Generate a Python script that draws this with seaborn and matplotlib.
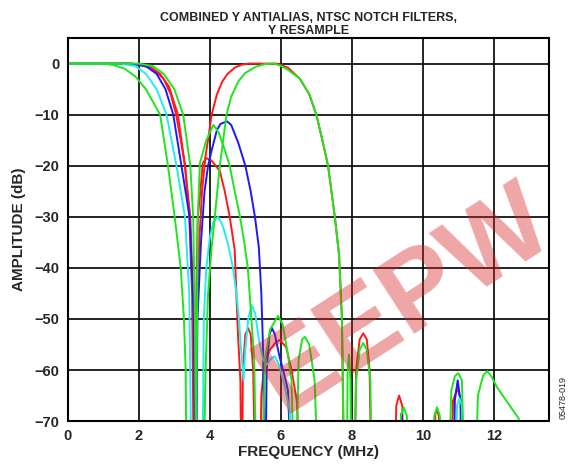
import pandas as pd
import matplotlib.pyplot as plt
import seaborn as sns

# Curves (MHz, dB). Values below -70 are nulls (clipped).
red_lobe_f = [0, 1.5, 2.0, 2.4, 2.7, 2.9, 3.05, 3.18, 3.3, 3.42, 3.5, 3.56, 3.62, 3.66, 3.72, 3.8, 3.9, 4.05, 4.28, 4.42, 4.56, 4.7, 4.79, 4.86, 4.9,
              4.93, 5.0, 5.08, 5.15, 5.22, 5.3]
red_lobe_db = [0, 0, -0.2, -1, -3, -6, -10, -15, -20, -30, -45, -90, -45, -30, -26, -19.5, -18.5, -19, -21, -25, -30, -36.5, -52.7, -62, -90,
               -60, -53, -51.8, -53, -60, -90]

red_lp_f = [0, 1.8, 2.3, 2.6, 2.85, 3.1, 3.3, 3.45, 3.55, 3.6, 5.4, 5.45, 5.55, 5.7, 5.85, 5.97, 6.15, 6.3, 6.45, 6.6]
red_lp_db = [0, 0, -0.6, -2, -4.5, -10, -20, -30, -50, -90, -90, -65, -58, -56, -54.6, -54.1, -55.5, -60, -66, -90]

red_bp_f = [3.6, 3.64, 3.7, 3.78, 3.88, 3.97, 4.05, 4.2, 4.35, 4.5, 4.7, 4.9, 5.1, 5.9, 6.2, 6.54, 6.8, 7.0, 7.17, 7.33, 7.52, 7.64, 7.72, 7.8,
            8.05, 8.12, 8.22, 8.32, 8.42, 8.5, 8.57, 9.2, 9.25, 9.33, 9.42, 9.48, 10.3, 10.35, 10.4, 10.45, 10.5,
            10.75, 10.85, 10.97, 11.08, 11.15]
red_bp_db = [-90, -50, -35, -25, -18, -14, -10, -6, -3.5, -2, -0.8, -0.2, 0, 0, -0.8, -3, -6, -10, -15, -20, -30, -37.5, -50, -90,
             -90, -60, -54, -52.8, -54, -60, -90, -90, -67, -65, -67, -90, -90, -68.5, -68, -69, -90,
             -90, -66, -63.6, -66, -90]

blue_f = [0, 1.8, 2.2, 2.5, 2.75, 2.97, 3.2, 3.43, 3.55, 3.6, 3.65, 3.75, 3.85, 3.95, 4.05, 4.2, 4.3, 4.48, 4.6, 4.8, 5.0, 5.15, 5.27, 5.38,
          5.45, 5.5, 5.55, 5.6, 5.68, 5.75, 5.83, 5.95, 6.1, 6.2, 6.35, 9.36, 9.4, 9.44, 10.85, 10.9, 10.98, 11.06, 11.1]
blue_db = [0, 0, -0.5, -2, -5, -10, -20, -30, -50, -90, -50, -35, -25, -20, -17, -13, -11.8, -11.3, -12, -15.5, -20, -25, -30, -36,
           -45, -56, -90, -60, -53, -51.8, -53, -57, -61, -64, -90, -90, -68.5, -90, -90, -66, -62, -66, -90]

cyan_f = [0, 1.5, 1.9, 2.2, 2.5, 2.78, 3.06, 3.3, 3.42, 3.5, 3.78, 3.83, 3.9, 4.0, 4.1, 4.23, 4.35, 4.5, 4.65, 4.75, 4.82, 4.88, 4.95,
          5.0, 5.08, 5.18, 5.28, 5.38, 5.5, 5.6, 5.72, 5.83, 5.95, 6.1, 6.25, 6.35, 10.9, 10.96, 11.03, 11.1, 11.15]
cyan_db = [0, 0, -0.5, -2, -5, -10, -20, -30, -45, -90, -90, -50, -40, -34, -31, -30, -31.5, -35, -40, -45, -50, -56, -62,
           -56, -50, -47.3, -49, -54, -58, -59, -57.8, -57.3, -59, -63, -68, -90, -90, -67, -65.5, -67, -90]

green_lp_f = [0, 1.0, 1.3, 1.6, 1.9, 2.2, 2.6, 2.82, 3.01, 3.18, 3.27, 3.32, 3.35]
green_lp_db = [0, 0, -0.3, -1, -2.5, -5, -10, -20, -30, -40, -50, -60, -90]

green_lp2_f = [0, 2.0, 2.4, 2.7, 3.0, 3.25, 3.45, 3.53, 3.58, 3.62]
green_lp2_db = [0, 0, -0.5, -2, -5, -10, -20, -30, -50, -90]

green_lobe_f = [3.6, 3.66, 3.72, 3.9, 4.1, 4.25, 4.4, 4.56, 4.7, 4.85, 4.97, 5.07, 5.15, 5.25, 5.33,
                5.45, 5.55, 5.7, 5.92, 6.05, 6.2, 6.3, 6.4, 6.5, 6.6, 6.68, 6.8, 6.95, 7.1]
green_lobe_db = [-90, -30, -19.5, -15, -12, -13.5, -16.5, -20, -25, -30, -35, -40, -48, -58, -90,
                 -90, -58, -52, -49.4, -51, -57, -62, -90, -58, -54, -53.5, -55, -62, -90]

green_bp_f = [3.8, 3.88, 3.95, 4.05, 4.14, 4.28, 4.47, 4.6, 4.8, 5.0, 5.3, 5.55, 5.8, 5.95, 6.2, 6.54, 6.8, 7.0, 7.17, 7.33, 7.52,
              7.64, 7.72, 7.8, 7.85, 7.88, 7.92, 7.96, 8.0, 8.05, 8.12, 8.22, 8.32, 8.42, 8.52, 8.58,
              9.3, 9.38, 9.46, 9.55, 9.6, 10.25, 10.32, 10.4, 10.48, 10.55, 10.7, 10.8, 10.9, 11.0, 11.1, 11.2,
              11.45, 11.55, 11.7, 11.82, 11.95, 12.1, 12.3, 12.5, 12.7, 12.8]
green_bp_db = [-90, -60, -45, -36, -30, -20, -10, -6.5, -3.5, -1.8, -0.6, -0.1, 0, -0.3, -1.2, -3, -6, -10, -15, -20, -30,
               -37.5, -50, -90, -90, -60, -57, -62, -90, -90, -62, -56, -54.7, -56, -62, -90,
               -90, -69, -67.3, -69, -90, -90, -69, -67.3, -69, -90, -90, -64, -61.2, -60.6, -62, -90,
               -90, -65, -61, -60.2, -61.5, -63.5, -65.5, -67.5, -69.5, -90]

traces = [
    ("red lobe", red_lobe_f, red_lobe_db, "#ff1a1a"),
    ("red lp", red_lp_f, red_lp_db, "#ff1a1a"),
    ("red bp", red_bp_f, red_bp_db, "#ff1a1a"),
    ("blue", blue_f, blue_db, "#1a1aff"),
    ("cyan", cyan_f, cyan_db, "#22eeee"),
    ("green lp", green_lp_f, green_lp_db, "#1ee61e"),
    ("green lp2", green_lp2_f, green_lp2_db, "#1ee61e"),
    ("green lobe", green_lobe_f, green_lobe_db, "#1ee61e"),
    ("green bp", green_bp_f, green_bp_db, "#1ee61e"),
]

frames = []
for name, f, db, _ in traces:
    frames.append(pd.DataFrame({"freq": f, "amp": db, "trace": name}))
df = pd.concat(frames, ignore_index=True)
palette = {name: c for name, _, _, c in traces}

sns.set_style("white")
plt.rcParams["font.family"] = ["Liberation Sans", "DejaVu Sans"]

fig = plt.figure(figsize=(5.7, 4.7), dpi=100)
ax = fig.add_axes([0.119, 0.104, 0.844, 0.815])

sns.lineplot(data=df, x="freq", y="amp", hue="trace", palette=palette, sort=False,
             estimator=None, linewidth=1.4, legend=False, ax=ax)

ax.set_xlim(0, 13.55)
ax.set_ylim(-70, 5)
ax.set_xticks(range(0, 13, 2))
ax.set_yticks(range(-70, 1, 10))
ax.set_yticklabels(["\u221270", "\u221260", "\u221250", "\u221240", "\u221230", "\u221220", "\u221210", "0"])
ax.grid(True, color="black", linewidth=1.2)
ax.set_axisbelow(True)
for s in ax.spines.values():
    s.set_color("black")
    s.set_linewidth(1.5)
ax.tick_params(length=0, pad=6, labelsize=10.5)
for lab in ax.get_xticklabels() + ax.get_yticklabels():
    lab.set_fontweight("bold")

ax.set_xlabel("FREQUENCY (MHz)", fontsize=11, fontweight="bold", labelpad=1)
ax.set_ylabel("AMPLITUDE (dB)", fontsize=11, fontweight="bold", labelpad=6)
ax.set_title("COMBINED Y ANTIALIAS, NTSC NOTCH FILTERS,\nY RESAMPLE", fontsize=9,
             fontweight="bold", linespacing=1.05, pad=3)

fig.text(0.988, 0.155, "05478-019", rotation=90, fontsize=6.5, ha="center", va="center")

# watermark
fig.text(0.71, 0.36, "EEPW", rotation=33, fontsize=80, fontweight="bold", color="#d62020",
         alpha=0.4, ha="center", va="center", zorder=10)

fig.savefig("out.png", dpi=100)
